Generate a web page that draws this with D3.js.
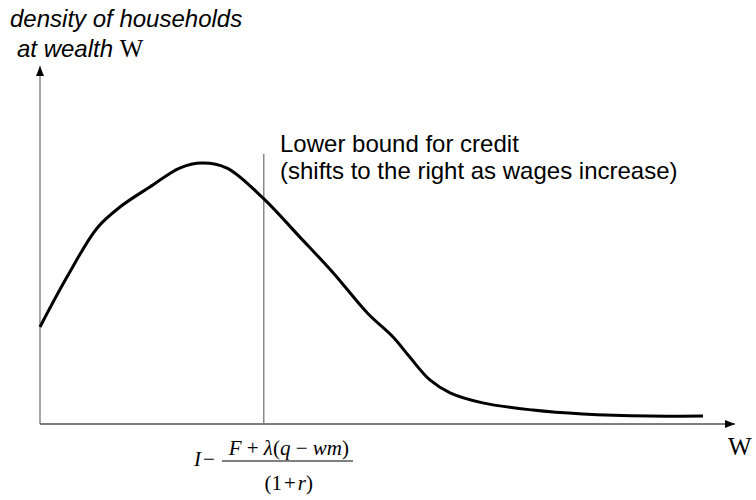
<!DOCTYPE html>
<html>
<head>
<meta charset="utf-8">
<script src="https://cdn.jsdelivr.net/npm/d3@7"></script>
<style>
  html, body { margin: 0; padding: 0; background: #fff; }
  svg { display: block; }
</style>
</head>
<body>
<div id="chart"></div>
<script>
// ── Data ─────────────────────────────────────────
const WEALTH  = [0, 3.9, 8.2, 11.5, 15.8, 20.1, 23.3, 26.9, 32.1, 37.4, 42.2, 47.1,
                 50.8, 53.2, 56.1, 59.0, 63.7, 70.9, 78.1, 87.8, 95.4];
const DENSITY = [27.1, 41.1, 54.7, 60.6, 66.2, 71.5, 72.9, 71.5, 63.1, 52.2, 42.2, 31.0,
                 24.3, 18.7, 12.3, 8.7, 5.9, 3.9, 2.8, 2.2, 2.2];
const CREDIT_BOUND = 32.2;

const Y_LABEL   = ["density of households", "at wealth"];
const X_LABEL   = "W";
const NOTE      = ["Lower bound for credit", "(shifts to the right as wages increase)"];

(function () {
  const W = 756, H = 500;
  const margin = { top: 66, right: 21, bottom: 76, left: 40 };

  const svg = d3.select("#chart").append("svg")
    .attr("width", W).attr("height", H);

  const x = d3.scaleLinear().domain([0, 100]).range([margin.left, W - margin.right]);
  const y = d3.scaleLinear().domain([0, 100]).range([H - margin.bottom, margin.top]);

  const sans  = "'Liberation Sans', Arial, sans-serif";
  const serif = "'Liberation Serif', 'Times New Roman', serif";

  // arrow head
  svg.append("defs").append("marker")
    .attr("id", "arrow")
    .attr("viewBox", "0 0 10 10")
    .attr("refX", 10).attr("refY", 5)
    .attr("markerWidth", 10).attr("markerHeight", 10)
    .attr("markerUnits", "userSpaceOnUse")
    .attr("orient", "auto")
    .append("path")
      .attr("d", "M0,1 L10,5 L0,9 Z")
      .attr("fill", "#000");

  // ── Axes ───────────────────────────────────────
  svg.append("line")
    .attr("x1", x(0)).attr("y1", y(0))
    .attr("x2", x(0)).attr("y2", y(100))
    .attr("stroke", "#777").attr("stroke-width", 1.3)
    .attr("marker-end", "url(#arrow)");

  svg.append("line")
    .attr("x1", x(0)).attr("y1", y(0))
    .attr("x2", x(100)).attr("y2", y(0))
    .attr("stroke", "#555").attr("stroke-width", 1.3)
    .attr("marker-end", "url(#arrow)");

  // ── Credit bound line ──────────────────────────
  svg.append("line")
    .attr("x1", x(CREDIT_BOUND)).attr("x2", x(CREDIT_BOUND))
    .attr("y1", y(0)).attr("y2", y(75.5))
    .attr("stroke", "#777").attr("stroke-width", 1.3);

  // ── Density curve ──────────────────────────────
  const pts = WEALTH.map((w, i) => ({ w: w, d: DENSITY[i] }));
  const line = d3.line()
    .x(d => x(d.w))
    .y(d => y(d.d))
    .curve(d3.curveCatmullRom.alpha(0.5));

  svg.append("path")
    .datum(pts)
    .attr("fill", "none")
    .attr("stroke", "#000")
    .attr("stroke-width", 3)
    .attr("stroke-linejoin", "round")
    .attr("d", line);

  // ── Labels ─────────────────────────────────────
  svg.append("text")
    .attr("x", 10).attr("y", 27)
    .attr("font-family", sans).attr("font-style", "italic")
    .attr("font-size", 24).attr("fill", "#000")
    .text(Y_LABEL[0]);

  const yl = svg.append("text")
    .attr("x", 17).attr("y", 57)
    .attr("font-family", sans).attr("font-size", 24).attr("fill", "#000");
  yl.append("tspan").attr("font-style", "italic").text(Y_LABEL[1] + " ");
  yl.append("tspan").attr("font-family", serif).attr("font-size", 25).text(X_LABEL);

  svg.append("text")
    .attr("x", 728).attr("y", 455)
    .attr("font-family", serif).attr("font-size", 25).attr("fill", "#000")
    .text(X_LABEL);

  NOTE.forEach((t, i) => {
    svg.append("text")
      .attr("x", 280).attr("y", 152 + i * 27)
      .attr("font-family", sans).attr("font-size", 24).attr("fill", "#000")
      .text(t);
  });

  // ── Threshold formula under the credit line ────
  const fx = x(CREDIT_BOUND) + 24;
  const f = svg.append("g").attr("font-family", serif).attr("font-size", 21).attr("fill", "#000");

  const lead = f.append("text").attr("x", 194).attr("y", 466);
  lead.append("tspan").attr("font-style", "italic").text("I");
  lead.append("tspan").attr("dx", 2).text("\u2212");

  f.append("line")
    .attr("x1", 222).attr("x2", 353)
    .attr("y1", 461).attr("y2", 461)
    .attr("stroke", "#000").attr("stroke-width", 1);

  const num = f.append("text").attr("x", fx + 1).attr("y", 455).attr("text-anchor", "middle");
  num.append("tspan").attr("font-style", "italic").text("F");
  num.append("tspan").text(" + ");
  num.append("tspan").attr("font-style", "italic").text("\u03BB");
  num.append("tspan").text("(");
  num.append("tspan").attr("font-style", "italic").text("q");
  num.append("tspan").text(" \u2212 ");
  num.append("tspan").attr("font-style", "italic").text("wm");
  num.append("tspan").text(")");

  const den = f.append("text").attr("x", fx + 1).attr("y", 490).attr("text-anchor", "middle");
  den.append("tspan").text("(1");
  den.append("tspan").attr("dx", 2).text("+");
  den.append("tspan").attr("dx", 2).attr("font-style", "italic").text("r");
  den.append("tspan").text(")");
})();
</script>
</body>
</html>
